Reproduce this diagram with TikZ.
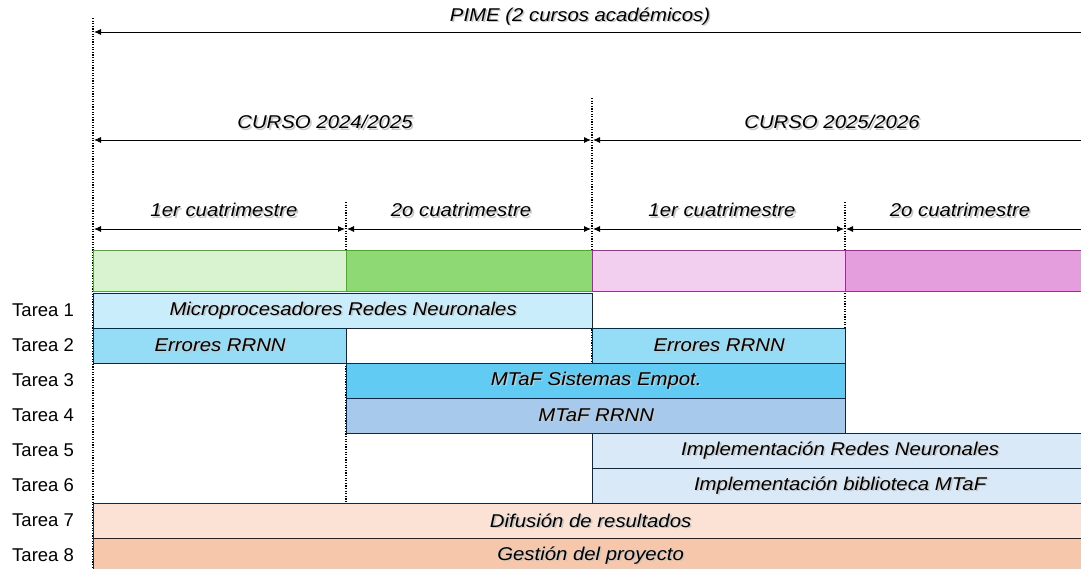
\documentclass[tikz,border=0pt]{standalone}
\usepackage{fontspec}
\setmainfont{Liberation Sans}
\newfontfamily\rotulo[FakeStretch=1.1]{Liberation Sans}
\usetikzlibrary{arrows.meta,positioning}

\definecolor{borde}{HTML}{0E2841}
\definecolor{verdeBorde}{HTML}{4EA72E}
\definecolor{verdeClaro}{HTML}{D9F2D0}
\definecolor{verdeMedio}{HTML}{8ED973}
\definecolor{moradoBorde}{HTML}{A02B93}
\definecolor{rosaClaro}{HTML}{F2CFEE}
\definecolor{rosaMedio}{HTML}{E59EDD}
\definecolor{azulA}{HTML}{CAEDFB}
\definecolor{azulB}{HTML}{95DCF7}
\definecolor{azulC}{HTML}{61CBF3}
\definecolor{azulD}{HTML}{A6C9EC}
\definecolor{azulE}{HTML}{DAE9F7}
\definecolor{naranjaA}{HTML}{FBE2D5}
\definecolor{naranjaB}{HTML}{F7C7AC}

% texto con sombra gris
\newcommand{\sombra}[1]{\makebox[0pt][l]{\raisebox{-1.6pt}{\hspace{1.6pt}\textcolor{black!22}{#1}}}#1}

\tikzset{
    tarea/.style={draw=borde, line width=1.3pt, minimum height=35pt, inner sep=0pt, anchor=north west, font=\rotulo\itshape\fontsize{18.5}{20}\selectfont},
    periodo/.style={line width=1.4pt, minimum height=41pt, inner sep=0pt, anchor=north west},
    etiqueta/.style={anchor=west, inner sep=0pt, font=\fontsize{18.5}{20}\selectfont},
    titulo/.style={inner sep=0pt, font=\rotulo\itshape\fontsize{18.5}{20}\selectfont},
    guia/.style={line width=1.2pt, dash pattern=on 1.2pt off 1.4pt},
    cota/.style={{Latex[length=7pt,width=6pt]}-{Latex[length=7pt,width=6pt]}, line width=0.9pt},
    cotaizq/.style={{Latex[length=7pt,width=6pt]}-, line width=0.9pt},
}

\begin{document}
\begin{tikzpicture}[x=1pt, y=-1pt]

    \useasboundingbox (0,0) rectangle (1081,568);

    % lineas de division
    \draw[guia] (93,18) -- (93,568);
    \draw[guia] (346,202) -- (346,504);
    \draw[guia] (592,98) -- (592,433);
    \draw[guia] (845,202) -- (845,327);

    % cotas
    \draw[cotaizq] (94,32) -- (1081,32);
    \node[titulo] (pime) at (580,17) {\sombra{PIME (2 cursos académicos)}};

    \draw[cota] (94,140) -- (591,140);
    \draw[cotaizq] (593,140) -- (1081,140);
    \node[titulo] (curso1) at (325,123) {\sombra{CURSO 2024/2025}};
    \node[titulo] (curso2) at (832,123) {\sombra{CURSO 2025/2026}};

    \draw[cota] (94,229) -- (345,229);
    \draw[cota] (347,229) -- (591,229);
    \draw[cota] (593,229) -- (844,229);
    \draw[cotaizq] (846,229) -- (1081,229);
    \node[titulo] (cuat1) at (224,211) {\sombra{1er cuatrimestre}};
    \node[titulo] (cuat2) at (461,211) {\sombra{2o cuatrimestre}};
    \node[titulo] (cuat3) at (722,211) {\sombra{1er cuatrimestre}};
    \node[titulo] (cuat4) at (960,211) {\sombra{2o cuatrimestre}};

    % barra de periodos
    \node[periodo, draw=verdeBorde, fill=verdeClaro, minimum width=253pt] (p1) at (93,250) {};
    \node[periodo, draw=verdeBorde, fill=verdeMedio, minimum width=246pt] (p2) at (346,250) {};
    \node[periodo, draw=moradoBorde, fill=rosaClaro, minimum width=253pt] (p3) at (592,250) {};
    \node[periodo, draw=moradoBorde, fill=rosaMedio, minimum width=240pt] (p4) at (845,250) {};

    % nombres de las tareas
    \foreach \i in {1,...,8}
        \node[etiqueta] (tarea\i) at (12,275.5+35*\i) {Tarea \i};

    % tareas
    \node[tarea, fill=azulA, minimum width=499pt] (t1) at (93,293) {\sombra{Microprocesadores Redes Neuronales}};
    \node[tarea, fill=azulB, minimum width=253pt] (t2a) at (93,328) {\sombra{Errores RRNN}};
    \node[tarea, fill=azulB, minimum width=253pt] (t2b) at (592,328) {\sombra{Errores RRNN}};
    \node[tarea, fill=azulC, minimum width=499pt] (t3) at (346,363) {\sombra{MTaF Sistemas Empot.}};
    \node[tarea, fill=azulD, minimum width=499pt] (t4) at (346,398) {\sombra{MTaF RRNN}};
    \node[tarea, fill=azulE, minimum width=495pt] (t5) at (592,433) {\sombra{Implementación Redes Neuronales}};
    \node[tarea, fill=azulE, minimum width=495pt] (t6) at (592,468) {\sombra{Implementación biblioteca MTaF}};
    \node[tarea, fill=naranjaA, minimum width=994pt] (t7) at (93,503) {\sombra{Difusión de resultados}};
    \node[tarea, fill=naranjaB, minimum width=994pt] (t8) at (93,538) {\sombra{Gestión del proyecto}};

\end{tikzpicture}
\end{document}
